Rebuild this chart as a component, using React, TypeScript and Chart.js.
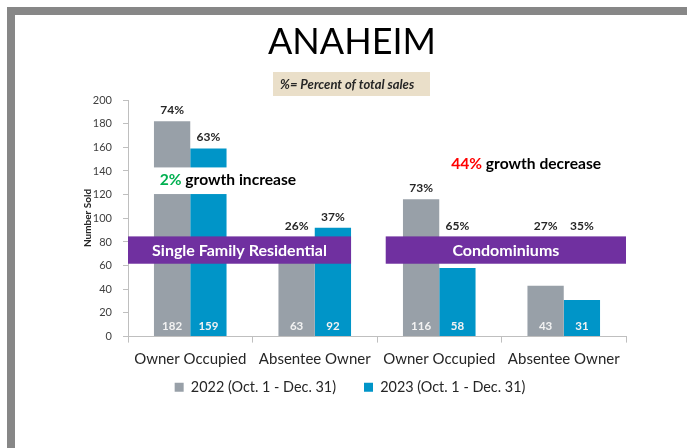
import React, { useEffect, useRef } from "react";
import { Chart, registerables } from "chart.js";

Chart.register(...registerables);

const categories = ["Owner Occupied", "Absentee Owner", "Owner Occupied", "Absentee Owner"];
const seriesLabels = ["2022 (Oct. 1 - Dec. 31)", "2023 (Oct. 1 - Dec. 31)"];
const sales2022 = [182, 63, 116, 43];
const sales2023 = [159, 92, 58, 31];
const pct2022 = ["74%", "26%", "73%", "27%"];
const pct2023 = ["63%", "37%", "65%", "35%"];
const groupNames = ["Single Family Residential", "Condominiums"];
const growthPct = ["2%", "44%"];
const growthWords = [" growth increase", " growth decrease"];
const titleText = "ANAHEIM";
const subtitleText = "%= Percent of total sales";
const yAxisTitle = "Number Sold";
const yMin = 0;
const yMax = 200;
const yStep = 20;

const W = 687;
const H = 448;
const FONT = "Lato";

const overlay = {
  id: "overlay",
  afterLayout(chart: any) {
    const lg = chart.legend;
    if (lg) {
      lg.top -= 22.5;
      lg.bottom -= 22.5;
      lg.left -= 5;
      lg.right -= 5;
    }
  },
  beforeDraw(chart: any) {
    const ctx = chart.ctx;
    ctx.save();
    ctx.fillStyle = "#ffffff";
    ctx.fillRect(0, 0, W, H);
    ctx.fillStyle = "#878787";
    ctx.fillRect(7, 7, W - 7, 8);
    ctx.fillRect(7, 7, 8, H - 7);

    ctx.fillStyle = "#000000";
    ctx.font = `36px ${FONT}`;
    ctx.textAlign = "center";
    ctx.textBaseline = "middle";
    ctx.fillText(titleText, 352, 42);

    ctx.fillStyle = "#EADFC9";
    ctx.fillRect(273, 72, 157, 24);
    ctx.fillStyle = "#262626";
    ctx.font = `italic bold 13px ${FONT}`;
    ctx.textAlign = "left";
    ctx.fillText(subtitleText, 280, 84.5);

    ctx.translate(88, 218);
    ctx.rotate(-Math.PI / 2);
    ctx.font = `bold 10px ${FONT}`;
    ctx.textAlign = "center";
    ctx.fillStyle = "#262626";
    ctx.fillText(yAxisTitle, 0, 0);
    ctx.restore();
  },
  afterDatasetsDraw(chart: any) {
    const ctx = chart.ctx;
    const x = chart.scales.x;
    const y = chart.scales.y;
    const area = chart.chartArea;
    ctx.save();

    const noteFont = `bold 15.6px ${FONT}`;
    // white text box behind first growth note
    const noteY1 = y.getPixelForValue(132);
    ctx.font = noteFont;
    const note1Left = x.getPixelForValue(-0.245);
    const w1 = ctx.measureText(growthPct[0] + growthWords[0]).width;
    const boxTop = y.getPixelForValue(143);
    const boxBot = y.getPixelForValue(120.5);
    const boxLeft = x.getPixelForValue(-0.3);
    ctx.fillStyle = "#ffffff";
    ctx.fillRect(boxLeft, boxTop, note1Left + w1 + 6 - boxLeft, boxBot - boxTop);

    ctx.textBaseline = "middle";
    ctx.textAlign = "left";
    const drawNote = (i: number, left: number, cy: number, color: string) => {
      ctx.font = noteFont;
      ctx.fillStyle = color;
      ctx.fillText(growthPct[i], left, cy);
      const pw = ctx.measureText(growthPct[i]).width;
      ctx.fillStyle = "#000000";
      ctx.fillText(growthWords[i], left + pw, cy);
    };
    drawNote(0, note1Left, noteY1, "#00B050");
    drawNote(1, x.getPixelForValue(2.096), y.getPixelForValue(145.8), "#FF0000");

    // purple bands
    const bandTop = y.getPixelForValue(84.7);
    const bandBot = y.getPixelForValue(61.6);
    const meta1 = chart.getDatasetMeta(1);
    const b = meta1.data[1];
    const bands = [
      [area.left, b.x + b.width / 2],
      [x.getPixelForValue(1.57), area.right],
    ];
    bands.forEach((bd, i) => {
      ctx.fillStyle = "#7030A0";
      ctx.fillRect(bd[0], bandTop, bd[1] - bd[0], bandBot - bandTop);
      ctx.fillStyle = "#ffffff";
      ctx.font = `bold 16px ${FONT}`;
      ctx.textAlign = "center";
      ctx.fillText(groupNames[i], (bd[0] + bd[1]) / 2, (bandTop + bandBot) / 2 + 1);
    });

    // labels
    const pcts = [pct2022, pct2023];
    [0, 1].forEach((d) => {
      const meta = chart.getDatasetMeta(d);
      meta.data.forEach((el: any, i: number) => {
        ctx.textAlign = "center";
        ctx.fillStyle = "#262626";
        ctx.font = `bold 12px ${FONT}`;
        const ly = Math.min(el.y - 11, bandTop - 10);
        ctx.fillText(pcts[d][i], el.x, ly);
        ctx.fillStyle = "#F2F2F2";
        ctx.font = `bold 11.5px ${FONT}`;
        const v = (d === 0 ? sales2022 : sales2023)[i];
        ctx.fillText(String(v), el.x, area.bottom - 10);
      });
    });
    ctx.restore();
  },
};

export default function App() {
  const ref = useRef<HTMLCanvasElement | null>(null);
  useEffect(() => {
    if (!ref.current) return;
    Chart.defaults.font.family = FONT;
    const chart = new Chart(ref.current, {
      type: "bar",
      data: {
        labels: categories,
        datasets: [
          {
            label: seriesLabels[0],
            data: sales2022,
            backgroundColor: "#98A0A8",
            borderWidth: 0,
            categoryPercentage: 0.583,
            barPercentage: 1,
          },
          {
            label: seriesLabels[1],
            data: sales2023,
            backgroundColor: "#0095C8",
            borderWidth: 0,
            categoryPercentage: 0.583,
            barPercentage: 1,
          },
        ],
      },
      options: {
        responsive: false,
        animation: false,
        devicePixelRatio: 1,
        layout: { padding: { top: 100, right: 61, left: 84, bottom: 21 } },
        plugins: {
          title: { display: false },
          tooltip: { enabled: false },
          legend: {
            position: "bottom",
            align: "center",
            labels: {
              boxWidth: 9,
              boxHeight: 9,
              padding: 28,
              color: "#262626",
              font: { family: FONT, size: 14.4 },
            },
          },
        },
        scales: {
          x: {
            grid: { display: true, drawOnChartArea: false, drawTicks: true, tickLength: 6, color: "#BFBFBF", offset: true },
            border: { color: "#BFBFBF" },
            ticks: { font: { family: FONT, size: 15 }, color: "#262626", padding: 8, maxRotation: 0, autoSkip: false },
            afterFit: (s: any) => {
              s.height = 38;
            },
          },
          y: {
            min: yMin,
            max: yMax,
            ticks: { stepSize: yStep, font: { family: FONT, size: 11 }, color: "#404040", padding: 11 },
            grid: { drawOnChartArea: false, tickLength: 5, color: "#BFBFBF" },
            border: { color: "#BFBFBF" },
            afterFit: (s: any) => {
              s.width = 44;
            },
          },
        },
      },
      plugins: [overlay],
    });
    return () => chart.destroy();
  }, []);
  return (
    <div style={{ position: "fixed", left: 0, top: 0, width: W, height: H, background: "#fff" }}>
      <canvas ref={ref} width={W} height={H} style={{ width: W, height: H, display: "block" }} />
    </div>
  );
}
